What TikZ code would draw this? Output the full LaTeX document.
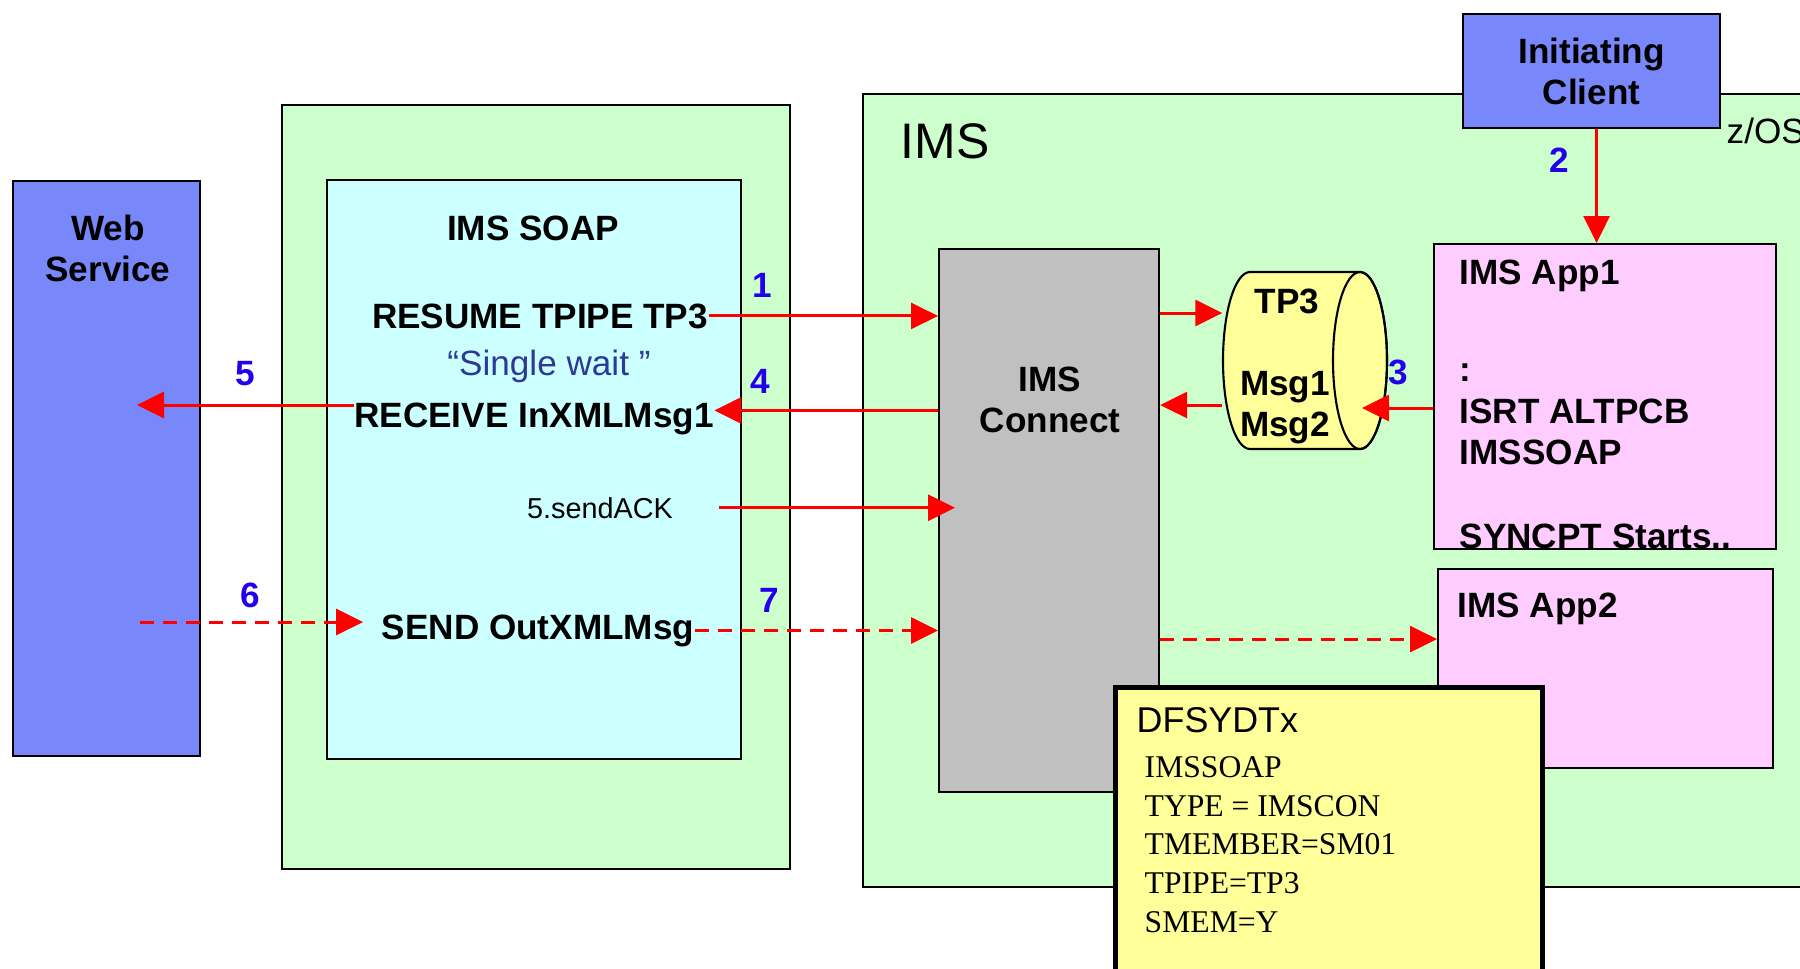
\documentclass[tikz,border=0pt]{standalone}
\usepackage{fontspec}
\setmainfont{Liberation Sans}
\newfontfamily\dfsfont{Liberation Serif}
\usepackage{tikz}
\usetikzlibrary{arrows.meta}
\definecolor{wsblue}{RGB}{120,136,250}
\definecolor{zgreen}{RGB}{204,255,204}
\definecolor{soapcyan}{RGB}{204,255,255}
\definecolor{conngray}{RGB}{192,192,192}
\definecolor{apppink}{RGB}{255,204,255}
\definecolor{tpyellow}{RGB}{255,255,153}
\definecolor{numblue}{RGB}{34,0,238}
\definecolor{waitblue}{RGB}{44,58,150}
\tikzstyle{box}=[draw, line width=0.6pt, inner sep=0pt, anchor=north west]
\tikzstyle{head}=[font=\fontsize{10}{11.7}\selectfont\bfseries, inner sep=0pt]
\tikzstyle{plain}=[font=\fontsize{10}{12}\selectfont, inner sep=0pt]
\tikzstyle{numlabel}=[font=\fontsize{10}{12}\selectfont\bfseries, text=numblue, inner sep=0pt, anchor=base]
\tikzstyle{msg edge}=[-{Triangle[length=2.7mm,width=2.6mm]}, red, line width=0.85pt]
\tikzstyle{late edge}=[msg edge, dash pattern=on 1.4mm off 0.9mm]
\newcommand{\panel}[4][]{
  \node [box, #1] (#2) at #3 {#4}
}
\begin{document}
\begin{tikzpicture}[x=0.1mm, y=-0.1mm]
        \useasboundingbox (0,0) rectangle (1800,968);
        \panel[fill=wsblue, minimum width=18.7mm, minimum height=57.5mm]{ws}{(12,180)}{};
        \node[head, align=center] (wst) at (108,248) {Web\\Service};

        \panel[fill=zgreen, minimum width=50.8mm, minimum height=76.4mm]{soapbg}{(281,104)}{};
        \panel[fill=soapcyan, minimum width=41.4mm, minimum height=57.9mm]{soap}{(326,179)}{};
                \node[head, anchor=base] (soapt) at (533,240) {IMS SOAP};
                \node[head, anchor=base] (rtp) at (540,328) {RESUME TPIPE TP3};
                \node[plain, anchor=base, text=waitblue] (wait) at (549,375) {“Single wait ”};
                \node[head, anchor=base] (rcv) at (534,427) {RECEIVE InXMLMsg1};
                \node[plain, anchor=base, font=\fontsize{8.2}{10}\selectfont] (ack) at (600,518) {5.sendACK};
                \node[head, anchor=base] (snd) at (538,639) {SEND OutXMLMsg};

        \panel[fill=zgreen, minimum width=97mm, minimum height=79.3mm]{ims}{(862,93)}{};
        \node[plain, anchor=base west, font=\fontsize{14.2}{17}\selectfont] (imst) at (900,158) {IMS};
        \node[plain, anchor=base west] (zos) at (1726,143) {z/OS};
        \panel[fill=wsblue, minimum width=25.7mm, minimum height=11.4mm, head, align=center]{initc}{(1462,13)}{Initiating\\Client};
        \panel[fill=conngray, minimum width=22mm, minimum height=54.3mm]{conn}{(938,248)}{};
                \node[head, align=center] (connt) at (1050,400) {IMS\\Connect};

        \filldraw[fill=tpyellow, line width=0.6pt] (1360,272) -- (1250,272)
                arc[start angle=90, end angle=270, x radius=2.7mm, y radius=8.85mm] -- (1360,449)
                arc[start angle=-90, end angle=90, x radius=2.7mm, y radius=8.85mm] -- cycle;
        \draw[line width=0.6pt] (1360,360.5) ellipse [x radius=2.7mm, y radius=8.85mm];
        \node[minimum width=16.4mm, minimum height=17.7mm, inner sep=0pt] (tp) at (1305,360.5) {};
                \node[head, anchor=base] (tpt) at (1287,313) {TP3};
                \node[head, align=center] (msgs) at (1285,407.5) {Msg1\\Msg2};

        \panel[fill=apppink, minimum width=34.2mm, minimum height=30.5mm]{app1}{(1433,243)}{};
                \node[head, align=left, anchor=north west] (app1t) at (1459,259) {IMS App1\\[5.65mm] :\\ ISRT ALTPCB\\ IMSSOAP\\[4.3mm] SYNCPT Starts..};
        \panel[fill=apppink, minimum width=33.5mm, minimum height=19.9mm]{app2}{(1437,568)}{};
                \node[head, anchor=base west] (app2t) at (1457,617) {IMS App2};

        \node[numlabel] (n1) at (762,297) {1};
        \node[numlabel] (n2) at (1559,172) {2};
        \node[numlabel] (n3) at (1398,384) {3};
        \node[numlabel] (n4) at (760,393) {4};
        \node[numlabel] (n5) at (245,385) {5};
        \node[numlabel] (n6) at (250,607) {6};
        \node[numlabel] (n7) at (769,612) {7};

            \draw[msg edge] (rtp.east) -- (rtp.east -| conn.west);
            \draw[msg edge] ([xshift=0.5mm]initc.south) -- ([xshift=0.5mm]initc.south |- app1.north);

            \coordinate (tp in) at ([yshift=4.75mm]tp.west);
            \draw[msg edge] (conn.east |- tp in) -- (tp in);
            \coordinate (tp out) at ([yshift=-4.45mm]tp.west);
            \draw[msg edge] (tp out) -- (conn.east |- tp out);
            \coordinate (tp cap) at (1362,408);
            \draw[msg edge] (app1.west |- tp cap) -- (tp cap);

            \coordinate (rcv in) at ([yshift=0.8mm]rcv.east);
            \draw[msg edge] (conn.west |- rcv in) -- (rcv in);
            \coordinate (ws in) at (137,405);
            \draw[msg edge] (rcv.west |- ws in) -- (ws in);
            \draw[msg edge] ([xshift=4.5mm]ack.east) -- ([xshift=1.7mm]conn.west |- ack.east);

            \coordinate (ws out) at (140,622);
            \draw[late edge] (ws out) -- ([xshift=-1.8mm]snd.west |- ws out);
            \draw[late edge] (snd.east) -- (snd.east -| conn.west);
            \coordinate (app2 in) at ([yshift=2.95mm]app2.west);
            \draw[late edge] (conn.east |- app2 in) -- (app2 in);

        \panel[fill=tpyellow, line width=1.3pt, minimum width=42.7mm, minimum height=30mm]{dfs}{(1113,685)}{};
                \node[plain, anchor=base west, font=\fontsize{10.2}{12}\selectfont] (dfst) at (1136,732) {DFSYDTx};
                \node[anchor=north west, inner sep=0pt, align=left, font=\dfsfont\fontsize{9}{11}\selectfont] (dfsl) at (1144,756) {IMSSOAP\\TYPE = IMSCON\\TMEMBER=SM01\\TPIPE=TP3\\SMEM=Y};
\end{tikzpicture}
\end{document}
